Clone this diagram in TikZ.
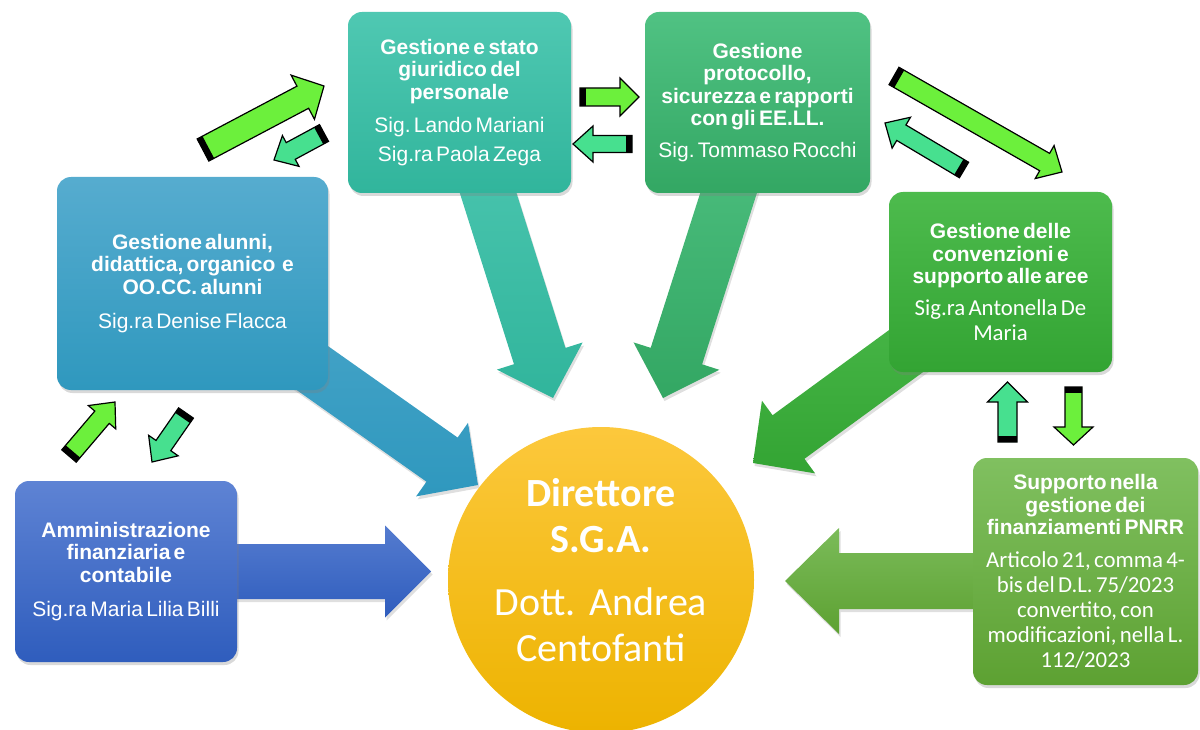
\documentclass[tikz,border=0pt]{standalone}
\usepackage{fontspec}
\setmainfont{Liberation Sans}
\newfontfamily\calibri{Carlito}
\usetikzlibrary{calc,shadows,backgrounds}
\frenchspacing

\definecolor{ammtop}{HTML}{5E83D4}
\definecolor{ammbot}{HTML}{2F5DBD}
\definecolor{alutop}{HTML}{56ACCF}
\definecolor{alubot}{HTML}{2F98BE}
\definecolor{pertop}{HTML}{4FC8B2}
\definecolor{perbot}{HTML}{31B59C}
\definecolor{protop}{HTML}{50C283}
\definecolor{probot}{HTML}{33A763}
\definecolor{contop}{HTML}{4DBB4D}
\definecolor{conbot}{HTML}{33A433}
\definecolor{pnrtop}{HTML}{80C060}
\definecolor{pnrbot}{HTML}{5DA132}
\definecolor{sgatop}{HTML}{FCC83C}
\definecolor{sgamid}{HTML}{FFC50E}
\definecolor{sgabot}{HTML}{EDB300}
\definecolor{lime}{HTML}{6CF03C}
\definecolor{mint}{HTML}{47E08F}

\newcommand{\ttl}[1]{{\fontsize{21}{22.5}\selectfont\bfseries #1\par}}
\newcommand{\bdy}[1]{{\fontsize{21}{25}\selectfont #1\par}}
\newcommand{\bdyc}[1]{{\calibri\fontsize{22.8}{25}\selectfont #1\par}}

% tail, tip, half shaft, half head, head length
\newcommand{\blockarrow}[6]{%
  \coordinate (ba-s) at ($(#3)!#6pt!(#2)$);
  \path[#1] ($(#2)!#4pt!90:(#3)$) -- ($(ba-s)!#4pt!90:(#3)$)
    -- ($(ba-s)!#5pt!90:(#3)$) -- (#3) -- ($(ba-s)!#5pt!-90:(#3)$)
    -- ($(ba-s)!#4pt!-90:(#3)$) -- ($(#2)!#4pt!-90:(#3)$) -- cycle;}
\newcommand{\tagarrow}[6]{%
  \coordinate (ta-s) at ($(#3)!#6pt!(#2)$);
  \coordinate (ta-b) at ($(#2)!6pt!(#3)$);
  \path[tagarr, #1] ($(#2)!#4pt!90:(#3)$) -- ($(ta-s)!#4pt!90:(#3)$)
    -- ($(ta-s)!#5pt!90:(#3)$) -- (#3) -- ($(ta-s)!#5pt!-90:(#3)$)
    -- ($(ta-s)!#4pt!-90:(#3)$) -- ($(#2)!#4pt!-90:(#3)$) -- cycle;
  \fill ($(#2)!#4pt!90:(#3)$) -- ($(ta-b)!#4pt!90:(#3)$)
    -- ($(ta-b)!#4pt!-90:(#3)$) -- ($(#2)!#4pt!-90:(#3)$) -- cycle;}

\begin{document}
\begin{tikzpicture}[x=1pt, y=-1pt, line join=round,
    area/.style={rounded corners=14pt, text=white, inner sep=0pt, align=center,
      drop shadow={opacity=0.3, shadow xshift=1.5pt, shadow yshift=-3pt}},
    sgaball/.style={circle, minimum size=306pt, inner sep=0pt,
      top color=sgatop, middle color=sgamid, bottom color=sgabot},
    sgatext/.style={text=white, align=center, text width=290pt,
      font=\calibri\fontsize{40}{46}\selectfont},
    bigarr/.style={drop shadow={opacity=0.25, shadow xshift=1.5pt, shadow yshift=-3pt}},
    tagarr/.style={draw=black, line width=1.2pt, line join=miter}]
\useasboundingbox (0,0) rectangle (1200,730);

\node[area, minimum width=222pt, minimum height=181pt, text width=214pt,
  top color=ammtop, bottom color=ammbot] (amm) at (126,571.5)
  {\ttl{Amministrazione\\finanziaria e\\contabile}\vspace{9pt}\bdy{Sig.ra Maria Lilia Billi}};
\node[area, minimum width=271pt, minimum height=213pt, text width=260pt,
  top color=alutop, bottom color=alubot] (alu) at (192.5,283.5)
  {\ttl{Gestione alunni,\\didattica, organico~~e\\OO.CC. alunni}\vspace{9pt}\bdy{Sig.ra Denise Flacca}};
\node[area, minimum width=223pt, minimum height=181pt, text width=215pt,
  top color=pertop, bottom color=perbot] (per) at (459.5,102.5)
  {\ttl{Gestione e stato\\giuridico del\\personale}\vspace{8pt}\bdy{Sig. Lando Mariani\\[4pt]Sig.ra Paola Zega}};
\node[area, minimum width=225pt, minimum height=181pt, text width=217pt,
  top color=protop, bottom color=probot] (pro) at (757.5,102.5)
  {\ttl{Gestione\\protocollo,\\sicurezza e rapporti\\con gli EE.LL.}\vspace{7pt}\bdy{Sig. Tommaso Rocchi}};
\node[area, minimum width=223pt, minimum height=180pt, text width=215pt,
  top color=contop, bottom color=conbot] (con) at (1000.5,282)
  {\ttl{Gestione delle\\convenzioni e\\supporto alle aree}\vspace{7pt}\bdyc{Sig.ra Antonella De\\Maria}};
\node[area, minimum width=225pt, minimum height=227pt, text width=217pt,
  top color=pnrtop, bottom color=pnrbot] (pnrr) at (1085.5,571.5)
  {\ttl{Supporto nella\\gestione dei\\finanziamenti PNRR}\vspace{8pt}\bdyc{Articolo 21, comma 4-\\bis del D.L. 75/2023\\convertito, con\\modificazioni, nella L.\\112/2023}};

\node[sgaball] (sga) at (601,580) {};
\node[sgatext] (sgalbl) at ([yshift=10pt]sga.center)
  {{\bfseries Direttore\\S.G.A.\par}\vspace{17pt}Dott. Andrea\\Centofanti};

\coordinate (amm-in) at (431,571.5);
\coordinate (alu-in) at (478,485);
\coordinate (per-in) at (553,398);
\coordinate (pro-in) at (663,398);
\coordinate (con-in) at (753,463);
\coordinate (pnrr-out) at (1000,581);
\coordinate (pnrr-in) at (785,581);

\begin{scope}[on background layer]
\blockarrow{bigarr, top color=ammtop!80!ammbot, bottom color=ammbot}{amm.center}{amm-in}{27.5}{46}{46}
\blockarrow{bigarr, top color=alutop!70!alubot, bottom color=alubot}{alu.center}{alu-in}{27}{45}{44}
\blockarrow{bigarr, top color=pertop, bottom color=perbot}{per.center}{per-in}{27}{45}{44}
\blockarrow{bigarr, top color=protop, bottom color=probot}{pro.center}{pro-in}{27}{45}{44}
\blockarrow{bigarr, top color=contop, bottom color=conbot}{con.center}{con-in}{27}{45}{44}
\blockarrow{bigarr, top color=pnrtop!85!pnrbot, bottom color=pnrbot}{pnrr-out}{pnrr-in}{28}{53}{54}
\end{scope}

\coordinate (ap-t) at (203,150);    \coordinate (ap-h) at (324,86);
\coordinate (pa-t) at (324,133);    \coordinate (pa-h) at (274,160);
\coordinate (pp-t) at (580,97);     \coordinate (pp-h) at (639,97);
\coordinate (rp-t) at (632,144);    \coordinate (rp-h) at (573,144);
\coordinate (pc-t) at (894,76);     \coordinate (pc-h) at (1062,172);
\coordinate (cp-t) at (964,170);    \coordinate (cp-h) at (885,123);
\coordinate (ma-t) at (69,456);     \coordinate (ma-h) at (115,402);
\coordinate (am-t) at (186,413);    \coordinate (am-h) at (152,462);
\coordinate (nc-t) at (1007.5,442); \coordinate (nc-h) at (1007.5,382);
\coordinate (cn-t) at (1073.5,387); \coordinate (cn-h) at (1073.5,445);

\tagarrow{fill=lime}{ap-t}{ap-h}{12.5}{25}{24}
\tagarrow{fill=mint}{pa-t}{pa-h}{9.5}{17.5}{19}
\tagarrow{fill=lime}{pp-t}{pp-h}{9}{19}{19}
\tagarrow{fill=mint}{rp-t}{rp-h}{8.5}{18}{20}
\tagarrow{fill=lime}{pc-t}{pc-h}{10}{19}{20}
\tagarrow{fill=mint}{cp-t}{cp-h}{9}{18}{19}
\tagarrow{fill=lime}{ma-t}{ma-h}{9.5}{18}{20}
\tagarrow{fill=mint}{am-t}{am-h}{9}{18}{20}
\tagarrow{fill=mint}{nc-t}{nc-h}{9.5}{20}{20}
\tagarrow{fill=lime}{cn-t}{cn-h}{8.5}{19.5}{18}
\end{tikzpicture}
\end{document}
